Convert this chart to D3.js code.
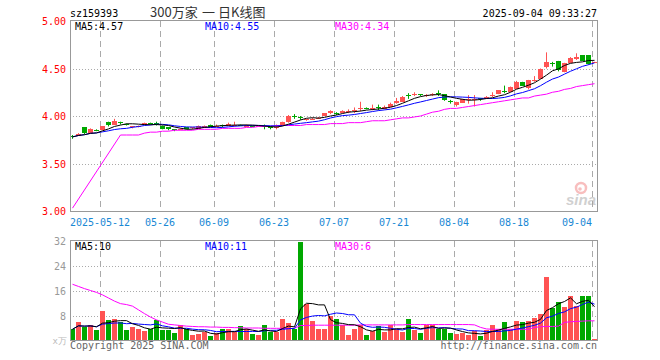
<!DOCTYPE html>
<html>
<head>
<meta charset="utf-8">
<script src="https://cdn.jsdelivr.net/npm/d3@7"></script>
<style>
body {margin: 0; background: #fff;}
svg text {font-family: "DejaVu Sans Mono", monospace; font-size: 10px;}
</style>
</head>
<body>
<div id="chart"></div>
<script>
// trading days shown (2025)
var dates = ["04-30",
    "05-06","05-07","05-08","05-09","05-12","05-13","05-14","05-15","05-16","05-19","05-20","05-21","05-22","05-23","05-26","05-27","05-28","05-29","05-30",
    "06-03","06-04","06-05","06-06","06-09","06-10","06-11","06-12","06-13","06-16","06-17","06-18","06-19","06-20","06-23","06-24","06-25","06-26","06-27","06-30",
    "07-01","07-02","07-03","07-04","07-07","07-08","07-09","07-10","07-11","07-14","07-15","07-16","07-17","07-18","07-21","07-22","07-23","07-24","07-25","07-28","07-29","07-30","07-31",
    "08-01","08-04","08-05","08-06","08-07","08-08","08-11","08-12","08-13","08-14","08-15","08-18","08-19","08-20","08-21","08-22","08-25","08-26","08-27","08-28","08-29",
    "09-01","09-02","09-03","09-04"];

var opens = [3.79,3.79,3.88,3.82,3.85,3.85,3.94,3.91,3.94,3.92,
    3.88,3.89,3.91,3.93,3.93,3.90,3.88,3.86,3.86,3.88,
    3.87,3.87,3.88,3.91,3.89,3.91,3.90,3.91,3.91,3.90,
    3.90,3.89,3.89,3.88,3.87,3.90,3.94,4.00,3.99,3.96,
    3.97,3.98,4.00,4.03,4.03,4.03,4.04,4.05,4.07,4.08,
    4.07,4.09,4.08,4.10,4.14,4.15,4.22,4.22,4.23,4.21,
    4.22,4.24,4.23,4.16,4.12,4.14,4.17,4.17,4.19,4.18,
    4.21,4.23,4.26,4.26,4.29,4.36,4.30,4.37,4.39,4.52,
    4.56,4.58,4.46,4.56,4.60,4.64,4.64,4.56];
var highs = [3.80,3.82,3.88,3.87,3.86,3.89,3.94,3.97,3.94,3.92,
    3.89,3.90,3.93,3.93,3.94,3.90,3.88,3.86,3.87,3.88,
    3.88,3.90,3.90,3.91,3.91,3.91,3.93,3.94,3.91,3.91,
    3.90,3.90,3.91,3.89,3.91,3.94,4.01,4.02,4.00,3.97,
    3.98,3.99,4.03,4.06,4.04,4.06,4.07,4.09,4.15,4.09,
    4.12,4.12,4.11,4.14,4.19,4.21,4.24,4.25,4.23,4.23,
    4.24,4.27,4.23,4.17,4.15,4.18,4.22,4.22,4.19,4.21,
    4.25,4.27,4.32,4.31,4.37,4.36,4.38,4.42,4.50,4.67,
    4.57,4.58,4.56,4.62,4.66,4.64,4.64,4.57];
var lows = [3.76,3.79,3.81,3.82,3.84,3.85,3.89,3.91,3.91,3.90,
    3.87,3.88,3.91,3.91,3.90,3.86,3.85,3.84,3.85,3.86,
    3.86,3.87,3.88,3.89,3.89,3.88,3.90,3.89,3.90,3.89,
    3.89,3.89,3.86,3.86,3.86,3.90,3.93,3.97,3.96,3.95,
    3.96,3.97,4.00,4.02,4.01,4.03,4.03,4.03,4.05,4.07,
    4.06,4.06,4.07,4.10,4.13,4.15,4.18,4.21,4.21,4.20,
    4.21,4.21,4.16,4.13,4.10,4.14,4.13,4.10,4.16,4.18,
    4.20,4.23,4.24,4.26,4.29,4.32,4.28,4.36,4.39,4.50,
    4.52,4.47,4.46,4.56,4.59,4.58,4.54,4.56];
var closes = [3.78,3.81,3.82,3.86,3.84,3.89,3.91,3.95,3.93,3.91,
    3.89,3.89,3.93,3.92,3.92,3.87,3.86,3.85,3.86,3.86,
    3.88,3.90,3.90,3.89,3.90,3.90,3.92,3.91,3.90,3.90,
    3.89,3.90,3.88,3.87,3.88,3.94,4.00,3.99,3.98,3.97,
    3.97,3.98,4.03,4.05,4.02,4.05,4.05,4.06,4.08,4.07,
    4.08,4.08,4.10,4.13,4.16,4.20,4.21,4.23,4.22,4.22,
    4.23,4.23,4.17,4.15,4.15,4.18,4.18,4.18,4.18,4.20,
    4.22,4.27,4.25,4.31,4.36,4.32,4.38,4.38,4.50,4.57,
    4.55,4.48,4.56,4.61,4.62,4.58,4.55,4.57];

// volume, 万手
var volumes = [3.6,5.8,4.4,4.9,3.3,9.4,6.5,6.8,5.8,3.3,
    4.4,3.8,3.0,3.6,6.5,3.3,3.3,2.5,5.1,3.6,
    1.7,2.0,2.8,1.4,2.5,3.8,3.6,2.8,4.6,3.6,
    2.0,1.7,5.1,2.8,2.8,6.8,5.6,3.8,31.6,11.8,
    6.2,3.6,3.8,8.0,6.8,5.1,1.7,3.6,4.9,1.7,
    3.0,4.6,2.8,4.9,3.6,2.8,6.8,3.3,2.3,5.1,
    4.9,3.8,3.8,2.3,2.1,2.3,1.7,3.0,1.4,3.3,
    5.1,3.8,5.8,3.8,6.2,5.8,6.2,7.2,8.4,20.4,
    10.4,12.4,10.8,14.2,11.0,14.2,14.2,0.4];

var priceMa30 = [3.03,null,null,null,null,null,null,null,
    3.80,3.80,3.80,3.80,3.82,3.83,3.83,3.84,3.84,3.85,3.85,3.85,
    3.85,3.86,3.86,3.86,3.86,3.87,3.87,3.87,3.87,3.88,
    3.88,3.89,3.89,3.89,3.90,3.90,3.90,3.90,3.90,3.91,
    3.91,3.91,3.91,3.92,3.92,3.92,3.93,3.93,3.93,3.94,
    3.95,3.95,3.95,3.96,3.97,3.98,3.98,3.99,4.00,4.02,
    4.04,4.05,4.07,4.08,4.08,4.09,4.10,4.11,4.12,4.13,
    4.14,4.15,4.16,4.17,4.18,4.19,4.19,4.21,4.22,4.23,
    4.25,4.26,4.28,4.29,4.31,4.32,4.33,4.34];
var volMa30 = [18.0,17.3,16.6,16.0,15.4,14.6,13.6,12.6,11.8,11.5,
    11.0,9.8,8.6,7.5,6.6,5.9,5.2,5.0,4.8,4.6,
    4.5,4.4,4.4,4.3,4.3,4.2,4.2,4.1,4.1,4.0,
    4.0,4.0,3.9,3.9,3.9,3.9,3.8,3.9,4.8,4.8,
    4.9,4.9,4.9,4.9,4.9,4.9,4.9,4.9,5.0,5.0,
    5.0,5.0,5.0,5.0,5.0,5.0,5.1,5.1,5.1,5.1,
    5.1,5.1,5.1,5.1,5.1,5.1,5.1,5.0,4.2,3.7,
    3.6,3.6,3.6,3.6,3.6,3.6,3.6,4.2,4.4,4.5,
    4.5,4.6,5.8,6.0,6.1,6.2,6.3,6.3];

var priceTicks = [5.00, 4.50, 4.00, 3.50, 3.00];
var volTicks = [32, 24, 16, 8];
var tickDates = ["05-12","05-26","06-09","06-23","07-07","07-21","08-04","08-18","09-04"];
var tickLabels = ["2025-05-12","05-26","06-09","06-23","07-07","07-21","08-04","08-18","09-04"];

var red = '#ff5353', green = '#00a800', gridCol = '#aaaaaa', frameCol = '#999999';

var width = 660, height = 360;
var plotL = 70, plotR = 597;
var svg = d3.select('#chart').append('svg')
    .attr('width', width)
    .attr('height', height);

var x = d3.scaleBand().domain(dates).range([70, 598]);
var yP = d3.scaleLinear().domain([3, 5]).range([211, 21]);
var yV = d3.scaleLinear().domain([0, 32]).range([340.5, 240.5]);

var data = dates.map(function(d, i){
    return {date: d, o: opens[i], h: highs[i], l: lows[i], c: closes[i], v: volumes[i], up: closes[i] >= opens[i]};
});

// moving average over available days (partial window at the start)
function movingAvg(vals, n){
    return vals.map(function(v, i){
        var s = vals.slice(Math.max(0, i - n + 1), i + 1);
        return d3.mean(s);
    });
}
var ma5 = movingAvg(closes, 5), ma10 = movingAvg(closes, 10);
var vma5 = movingAvg(volumes, 5), vma10 = movingAvg(volumes, 10);

function crisp(v){ return Math.round(v) + 0.5; }

// ---- grids ----
function drawGrid(top, bottom, yScale, ticks){
    var g = svg.append('g');
    g.selectAll('.hg').data(ticks).enter()
        .append('line')
        .attr('x1', plotL).attr('x2', plotR)
        .attr('y1', function(d){ return crisp(yScale(d)); })
        .attr('y2', function(d){ return crisp(yScale(d)); })
        .attr('stroke', gridCol)
        .attr('stroke-dasharray', '1,2');
    g.selectAll('.vg').data(tickDates).enter()
        .append('line')
        .attr('x1', function(d){ return x(d) + 0.5; })
        .attr('x2', function(d){ return x(d) + 0.5; })
        .attr('y1', top).attr('y2', bottom)
        .attr('stroke', gridCol)
        .attr('stroke-dasharray', '6,4');
}
drawGrid(21, 211, yP, [4.50, 4.00, 3.50]);
drawGrid(241, 340, yV, [24, 16, 8]);

// ---- sina watermark ----
var logo = svg.append('g').attr('opacity', 0.45);
logo.append('circle').attr('cx', 581).attr('cy', 188).attr('r', 5)
    .attr('fill', 'none').attr('stroke', '#f07070').attr('stroke-width', 2.5);
logo.append('circle').attr('cx', 580).attr('cy', 189).attr('r', 1.8).attr('fill', '#f07070');
logo.append('text').attr('x', 566).attr('y', 205)
    .style('font-family', 'Arial, "Liberation Sans", sans-serif')
    .style('font-size', '15px').style('font-style', 'italic').style('font-weight', 'bold')
    .attr('fill', '#999').text('sina');

// ---- candles ----
var candles = svg.append('g').selectAll('g').data(data).enter().append('g');
candles.append('line')
    .attr('x1', function(d){ return x(d.date) + 2.5; })
    .attr('x2', function(d){ return x(d.date) + 2.5; })
    .attr('y1', function(d){ return yP(d.h); })
    .attr('y2', function(d){ return yP(d.l); })
    .attr('stroke', function(d){ return d.up ? red : green; });
candles.append('rect')
    .attr('x', function(d){ return x(d.date); })
    .attr('width', 5)
    .attr('y', function(d){ return Math.round(yP(Math.max(d.o, d.c))); })
    .attr('height', function(d){ return Math.max(1, Math.round(Math.abs(yP(d.o) - yP(d.c)))); })
    .attr('fill', function(d){ return d.up ? red : green; });

// ---- volume bars ----
svg.append('g').selectAll('rect').data(data).enter().append('rect')
    .attr('x', function(d){ return x(d.date); })
    .attr('width', 5)
    .attr('y', function(d){ return Math.round(yV(d.v)); })
    .attr('height', function(d){ return Math.round(yV(0)) - Math.round(yV(d.v)); })
    .attr('fill', function(d){ return d.up ? red : green; });

// ---- MA lines ----
function drawMa(vals, yScale, col){
    var pts = vals.map(function(v, i){ return {date: dates[i], v: v}; })
        .filter(function(p){ return p.v != null; });
    var line = d3.line()
        .x(function(p){ return x(p.date) + 2.5; })
        .y(function(p){ return yScale(p.v); });
    svg.append('path').datum(pts)
        .attr('d', line)
        .attr('fill', 'none')
        .attr('stroke', col)
        .attr('stroke-width', 1);
}
drawMa(priceMa30, yP, '#ff00ff');
drawMa(ma10, yP, '#0000ff');
drawMa(ma5, yP, '#000000');
drawMa(volMa30, yV, '#ff00ff');
drawMa(vma10, yV, '#0000ff');
drawMa(vma5, yV, '#000000');

// ---- frames ----
svg.append('rect').attr('x', 70.5).attr('y', 20.5).attr('width', 527).attr('height', 191)
    .attr('fill', 'none').attr('stroke', frameCol);
svg.append('rect').attr('x', 70.5).attr('y', 240.5).attr('width', 527).attr('height', 100)
    .attr('fill', 'none').attr('stroke', frameCol);

// ---- axis labels ----
svg.append('g').selectAll('text').data(priceTicks).enter().append('text')
    .attr('x', 66).attr('y', function(d){ return yP(d) + 4; })
    .attr('text-anchor', 'end').attr('fill', '#ff0000')
    .text(function(d){ return d.toFixed(2); });
svg.append('g').selectAll('text').data(volTicks).enter().append('text')
    .attr('x', 66).attr('y', function(d){ return yV(d) + 4; })
    .attr('text-anchor', 'end').attr('fill', '#999')
    .text(function(d){ return d; });
svg.append('text').attr('x', 67).attr('y', 344).attr('text-anchor', 'end')
    .attr('fill', '#bbb').style('font-size', '9px').text('x万');

svg.append('g').selectAll('text').data(tickDates).enter().append('text')
    .attr('x', function(d){ return x(d); })
    .attr('y', 226)
    .attr('text-anchor', function(d, i){ return i == tickDates.length - 1 ? 'end' : 'middle'; })
    .attr('fill', '#1a88d4')
    .text(function(d, i){ return tickLabels[i]; });

// ---- header + legends ----
svg.append('text').attr('x', 70).attr('y', 17).attr('fill', '#000').text('sz159393');
var titleParts = ['300万家', '一', '日K线图'], titleX = [150, 202, 218];
titleParts.forEach(function(t, i){
    svg.append('text').attr('x', titleX[i]).attr('y', 17).attr('fill', '#333')
        .style('font-family', '"Noto Sans CJK SC", sans-serif').style('font-size', '13px')
        .text(t);
});
svg.append('text').attr('x', 597).attr('y', 17).attr('text-anchor', 'end').attr('fill', '#000')
    .text('2025-09-04 09:33:27');

var legendX = [75, 205, 335], legendCol = ['#000', '#0000ff', '#ff00ff'];
var priceLegend = ['MA5:4.57', 'MA10:4.55', 'MA30:4.34'];
var volLegend = ['MA5:10', 'MA10:11', 'MA30:6'];
priceLegend.forEach(function(t, i){
    svg.append('text').attr('x', legendX[i]).attr('y', 30).attr('fill', legendCol[i]).text(t);
});
volLegend.forEach(function(t, i){
    svg.append('text').attr('x', legendX[i]).attr('y', 250).attr('fill', legendCol[i]).text(t);
});

svg.append('text').attr('x', 70).attr('y', 349).attr('fill', '#666').text('Copyright 2025 SINA.COM');
svg.append('text').attr('x', 597).attr('y', 349).attr('text-anchor', 'end').attr('fill', '#666')
    .text('http://finance.sina.com.cn');
</script>
</body>
</html>
